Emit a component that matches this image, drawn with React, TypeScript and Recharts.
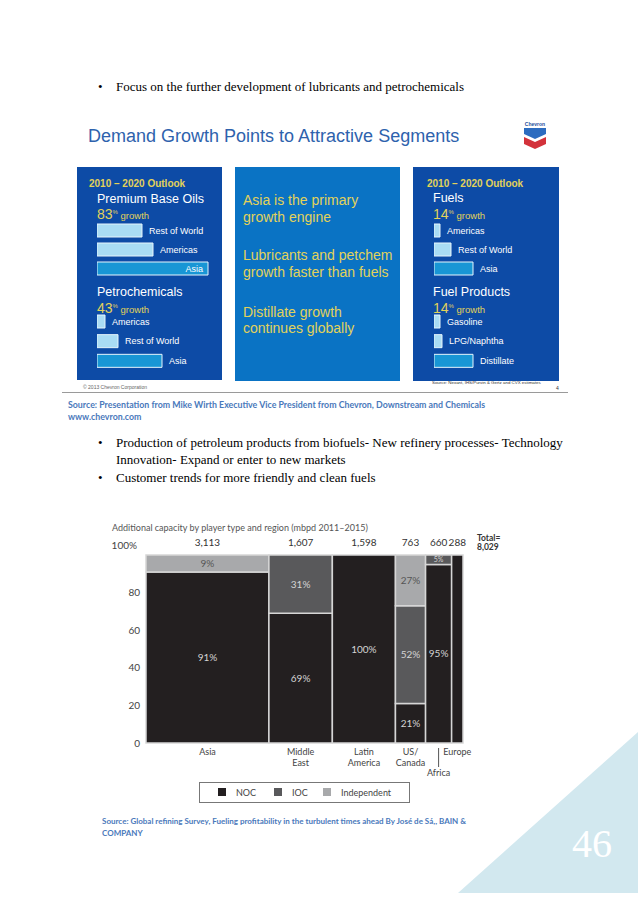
import React from 'react';
import { Bar, BarChart, Cell, ComposedChart, LabelList, Line, ReferenceArea, XAxis, YAxis } from 'recharts';

// Marimekko: additional refining capacity 2011-2015 (mbpd) by region and player type
const regions = ['Asia', 'Middle East', 'Latin America', 'US/ Canada', 'Africa', 'Europe'];
const capacity = [3113, 1607, 1598, 763, 660, 288];
const nocShare = [91, 69, 100, 21, 95, 100];
const iocShare = [0, 31, 0, 52, 5, 0];
const independentShare = [9, 0, 0, 27, 0, 0];
const shareTicks = [0, 20, 40, 60, 80, 100];
const playerTypes = ['NOC', 'IOC', 'Independent'];

// Chevron slide bars (relative growth)
const baseOilRegions = ['Rest of World', 'Americas', 'Asia'];
const baseOilGrowth = [45, 56, 111];
const petchemRegions = ['Americas', 'Rest of World', 'Asia'];
const petchemGrowth = [8, 21, 65];
const fuelRegions = ['Americas', 'Rest of World', 'Asia'];
const fuelGrowth = [6, 17, 39];
const fuelProducts = ['Gasoline', 'LPG/Naphtha', 'Distillate'];
const fuelProductGrowth = [6, 8, 39];

const playerColors = ['#231f20', '#59595b', '#a8a9ab'];
const SERIF = '"Liberation Serif", "Times New Roman", serif';
const SANS = '"Liberation Sans", Arial, sans-serif';
const CHART_FONT = 'Lato, sans-serif';
const YELLOW = '#e2d25a';

const totalCapacity = capacity.reduce((a, b) => a + b, 0);
const starts = capacity.map((_, i) => capacity.slice(0, i).reduce((a, b) => a + b, 0));
const mids = capacity.map((c, i) => starts[i] + c / 2);
const rows = regions.map((name, i) => ({
  name,
  mid: mids[i],
  total: capacity[i],
  columnTop: nocShare[i] + iocShare[i] + independentShare[i],
}));

const segments = regions.flatMap((_, i) => {
  const shares = [nocShare[i], iocShare[i], independentShare[i]];
  let base = 0;
  return shares
    .map((share, k) => {
      const seg = { i, k, share, y1: base, y2: base + share };
      base += share;
      return seg;
    })
    .filter((s) => s.share > 0);
});

const nearest = (v: number) => {
  let best = 0;
  mids.forEach((m, i) => {
    if (Math.abs(m - v) < Math.abs(mids[best] - v)) best = i;
  });
  return best;
};

function T({ x, y, size, color = '#000', font = SERIF, bold = false, anchor = 'start', children }: any) {
  const tx = anchor === 'middle' ? '-50%' : anchor === 'end' ? '-100%' : '0';
  return (
    <div
      style={{
        position: 'absolute',
        left: x,
        top: y,
        transform: `translate(${tx}, -50%)`,
        fontSize: size,
        lineHeight: 1,
        color,
        fontFamily: font,
        fontWeight: bold ? 700 : 400,
        whiteSpace: 'nowrap',
      }}
    >
      {children}
    </div>
  );
}

function Growth({ x, y, pct }: { x: number; y: number; pct: number }) {
  return (
    <T x={x} y={y} size={14} color={YELLOW} font={SANS}>
      {pct}
      <span style={{ fontSize: 6, verticalAlign: 5 }}>%</span>
      <span style={{ fontSize: 9.5 }}> growth</span>
    </T>
  );
}

function GrowthBars({ names, values, left, top, height }: any) {
  const data = names.map((name: string, i: number) => ({ name, value: values[i] }));
  const last = data.length - 1;
  return (
    <div style={{ position: 'absolute', left, top }}>
      <BarChart width={140} height={height} data={data} layout="vertical" margin={{ top: 0, right: 0, bottom: 0, left: 0 }}>
        <XAxis type="number" domain={[0, 140]} hide />
        <YAxis type="category" dataKey="name" hide />
        <Bar dataKey="value" barSize={13} isAnimationActive={false} stroke="#e6f5fc" strokeWidth={1}>
          {data.map((d: any, i: number) => (
            <Cell key={d.name} fill={i === last ? '#1896d5' : '#a9dcf4'} />
          ))}
          <LabelList
            dataKey="name"
            content={(p: any) => {
              const inside = p.width > 90;
              return (
                <text
                  x={inside ? p.x + p.width - 5 : p.x + p.width + 7}
                  y={p.y + p.height / 2}
                  dy="0.35em"
                  textAnchor={inside ? 'end' : 'start'}
                  fontSize={9}
                  fill="#fff"
                  fontFamily={SANS}
                >
                  {p.value}
                </text>
              );
            }}
          />
        </Bar>
      </BarChart>
    </div>
  );
}

const TotalTick = ({ x, y, payload }: any) => (
  <text x={x} y={y - 13} dy="0.35em" textAnchor="middle" fontSize={10} fill="#333" fontFamily={CHART_FONT}>
    {capacity[nearest(payload.value)].toLocaleString('en-US')}
  </text>
);

const RegionTick = ({ x, y, payload }: any) => {
  const name = regions[nearest(payload.value)];
  if (name === 'Africa') {
    return (
      <g>
        <line x1={x} x2={x} y1={y + 5} y2={y + 24} stroke="#555" strokeWidth={1} />
        <text x={x} y={y + 30} dy="0.35em" textAnchor="middle" fontSize={9} fill="#444" fontFamily={CHART_FONT}>
          {name}
        </text>
      </g>
    );
  }
  return (
    <text textAnchor="middle" fontSize={9} fill="#444" fontFamily={CHART_FONT}>
      {name.split(' ').map((line, j) => (
        <tspan key={j} x={x} y={y + 9 + j * 11} dy="0.35em">
          {line}
        </tspan>
      ))}
    </text>
  );
};

const ShareTick = ({ x, y, payload }: any) => {
  const top = payload.value === 100;
  return (
    <text x={top ? x - 3 : x} y={top ? y - 10 : y} dy="0.35em" textAnchor="end" fontSize={10} fill="#444" fontFamily={CHART_FONT}>
      {top ? '100%' : payload.value}
    </text>
  );
};

function CapacityChart() {
  return (
    <ComposedChart width={430} height={290} data={rows} margin={{ top: 35, right: 67, bottom: 7, left: 0 }}>
      <XAxis
        xAxisId="top"
        orientation="top"
        type="number"
        dataKey="mid"
        domain={[0, totalCapacity]}
        ticks={mids}
        interval={0}
        height={20}
        axisLine={false}
        tickLine={false}
        tickSize={0}
        tickMargin={0}
        tick={<TotalTick />}
      />
      <XAxis
        xAxisId="bottom"
        type="number"
        dataKey="mid"
        domain={[0, totalCapacity]}
        ticks={mids}
        interval={0}
        height={40}
        axisLine={false}
        tickLine={false}
        tickSize={0}
        tickMargin={0}
        tick={<RegionTick />}
      />
      <YAxis
        yAxisId="share"
        type="number"
        domain={[0, 100]}
        ticks={shareTicks}
        interval={0}
        width={46}
        axisLine={false}
        tickLine={false}
        tickSize={4}
        tickMargin={2}
        tick={<ShareTick />}
      />
      {/* invisible series so the share axis has data behind it */}
      <Line
        xAxisId="bottom"
        yAxisId="share"
        dataKey="columnTop"
        stroke="none"
        dot={false}
        activeDot={false}
        isAnimationActive={false}
      />
      {segments.map((s) => (
        <ReferenceArea
          key={`${s.i}-${s.k}`}
          xAxisId="bottom"
          yAxisId="share"
          x1={starts[s.i]}
          x2={starts[s.i] + capacity[s.i]}
          y1={s.y1}
          y2={s.y2}
          fill={playerColors[s.k]}
          fillOpacity={1}
          stroke="#d6d6d6"
          strokeWidth={1.5}
          ifOverflow="visible"
          label={
            capacity[s.i] < 400
              ? undefined
              : {
                  value: `${s.share}%`,
                  position: 'center',
                  fill: s.k === 2 ? '#555' : '#d4d4d4',
                  fontSize: s.share < 8 ? 7 : 10,
                  fontFamily: CHART_FONT,
                }
          }
        />
      ))}
    </ComposedChart>
  );
}

export default function App() {
  return (
    <div style={{ position: 'absolute', left: 0, top: 0, width: 638, height: 903, overflow: 'hidden', background: '#fff' }}>
      <svg style={{ position: 'absolute', left: 0, top: 0 }} width={638} height={903}>
        <polygon points="638,732 638,893 458,893" fill="#d2e8ef" />
      </svg>

      {/* first bullet */}
      <T x={98} y={86} size={13}>•</T>
      <T x={116} y={86} size={13}>Focus on the further development of lubricants and petrochemicals</T>

      {/* Chevron slide */}
      <T x={88} y={136} size={18} color="#2e62ad" font={SANS}>Demand Growth Points to Attractive Segments</T>
      <svg style={{ position: 'absolute', left: 522, top: 121 }} width={28} height={30}>
        <text x={13} y={5} fontSize={5} fontWeight="bold" fill="#1f4e9c" textAnchor="middle" fontFamily={SANS}>Chevron</text>
        <polygon points="2,7 24,7 24,13 13,18 2,13" fill="#2c6cc0" />
        <polygon points="2,16 13,21 24,16 24,23 13,28 2,23" fill="#d3323b" />
      </svg>

      <div style={{ position: 'absolute', left: 77, top: 167, width: 145, height: 213, background: '#0d4ba6' }} />
      <div style={{ position: 'absolute', left: 235, top: 167, width: 165, height: 214, background: '#0a73c4' }} />
      <div style={{ position: 'absolute', left: 413, top: 167, width: 146, height: 214, background: '#0d4ba6' }} />

      <T x={89} y={184} size={10} bold color={YELLOW} font={SANS}>2010 – 2020 Outlook</T>
      <T x={97} y={199} size={12.5} color="#fff" font={SANS}>Premium Base Oils</T>
      <Growth x={97} y={214} pct={83} />
      <GrowthBars names={baseOilRegions} values={baseOilGrowth} left={97} top={220.5} height={57} />
      <T x={97} y={292} size={12.5} color="#fff" font={SANS}>Petrochemicals</T>
      <Growth x={97} y={308} pct={43} />
      <GrowthBars names={petchemRegions} values={petchemGrowth} left={97} top={312} height={59} />

      <T x={243} y={200} size={14} color={YELLOW} font={SANS}>Asia is the primary</T>
      <T x={243} y={217} size={14} color={YELLOW} font={SANS}>growth engine</T>
      <T x={243} y={255} size={14} color={YELLOW} font={SANS}>Lubricants and petchem</T>
      <T x={243} y={272} size={14} color={YELLOW} font={SANS}>growth faster than fuels</T>
      <T x={243} y={312} size={14} color={YELLOW} font={SANS}>Distillate growth</T>
      <T x={243} y={328} size={14} color={YELLOW} font={SANS}>continues globally</T>

      <T x={427} y={184} size={10} bold color={YELLOW} font={SANS}>2010 – 2020 Outlook</T>
      <T x={433} y={198} size={12.5} color="#fff" font={SANS}>Fuels</T>
      <Growth x={433} y={214} pct={14} />
      <GrowthBars names={fuelRegions} values={fuelGrowth} left={434} top={220.5} height={57} />
      <T x={433} y={292} size={12.5} color="#fff" font={SANS}>Fuel Products</T>
      <Growth x={433} y={308} pct={14} />
      <GrowthBars names={fuelProducts} values={fuelProductGrowth} left={434} top={312} height={59} />

      <T x={83} y={387} size={5} color="#666" font={SANS}>© 2013 Chevron Corporation</T>
      <T x={432} y={382.5} size={4.4} color="#333" font={SANS}>Source: Nexant, IHS/Purvin &amp; Gertz and CVX estimates</T>
      <T x={556} y={388} size={5} color="#333" font={SANS}>4</T>
      <div style={{ position: 'absolute', left: 62, top: 392, width: 506, height: 1, background: '#9a9a9a' }} />

      <T x={68} y={405} size={8.8} bold color="#4a79bb" font={CHART_FONT}>
        Source: Presentation from Mike Wirth Executive Vice President from Chevron, Downstream and Chemicals
      </T>
      <T x={68} y={417} size={8.8} bold color="#4a79bb" font={CHART_FONT}>www.chevron.com</T>

      <T x={98} y={442} size={13}>•</T>
      <T x={116} y={442} size={13}>Production of petroleum products from biofuels- New refinery processes- Technology</T>
      <T x={116} y={459} size={13}>Innovation- Expand or enter to new markets</T>
      <T x={98} y={477} size={13}>•</T>
      <T x={116} y={477} size={13}>Customer trends for more friendly and clean fuels</T>

      {/* Bain capacity chart */}
      <T x={112} y={527} size={9} color="#555" font={CHART_FONT}>
        Additional capacity by player type and region (mbpd 2011–2015)
      </T>
      <div style={{ position: 'absolute', left: 100, top: 500 }}>
        <CapacityChart />
      </div>
      <T x={477} y={538} size={8.5} bold color="#333" font={CHART_FONT}>Total=</T>
      <T x={477} y={547} size={8.5} bold color="#333" font={CHART_FONT}>{totalCapacity.toLocaleString('en-US')}</T>

      <div style={{ position: 'absolute', left: 199, top: 782, width: 211, height: 21, border: '1px solid #777', boxSizing: 'border-box' }} />
      {playerTypes.map((p, k) => {
        const sx = [218, 274, 323][k];
        return (
          <React.Fragment key={p}>
            <div style={{ position: 'absolute', left: sx, top: 788, width: 8, height: 8, background: playerColors[k] }} />
            <T x={sx + 18} y={792} size={9} color="#444" font={CHART_FONT}>{p}</T>
          </React.Fragment>
        );
      })}

      <T x={102} y={821} size={8} bold color="#4a79bb" font={CHART_FONT}>
        Source: Global refining Survey, Fueling profitability in the turbulent times ahead By José de Sá,, BAIN &amp;
      </T>
      <T x={102} y={833} size={8} bold color="#4a79bb" font={CHART_FONT}>COMPANY</T>

      <T x={572} y={844} size={40} color="#fff">46</T>
    </div>
  );
}
